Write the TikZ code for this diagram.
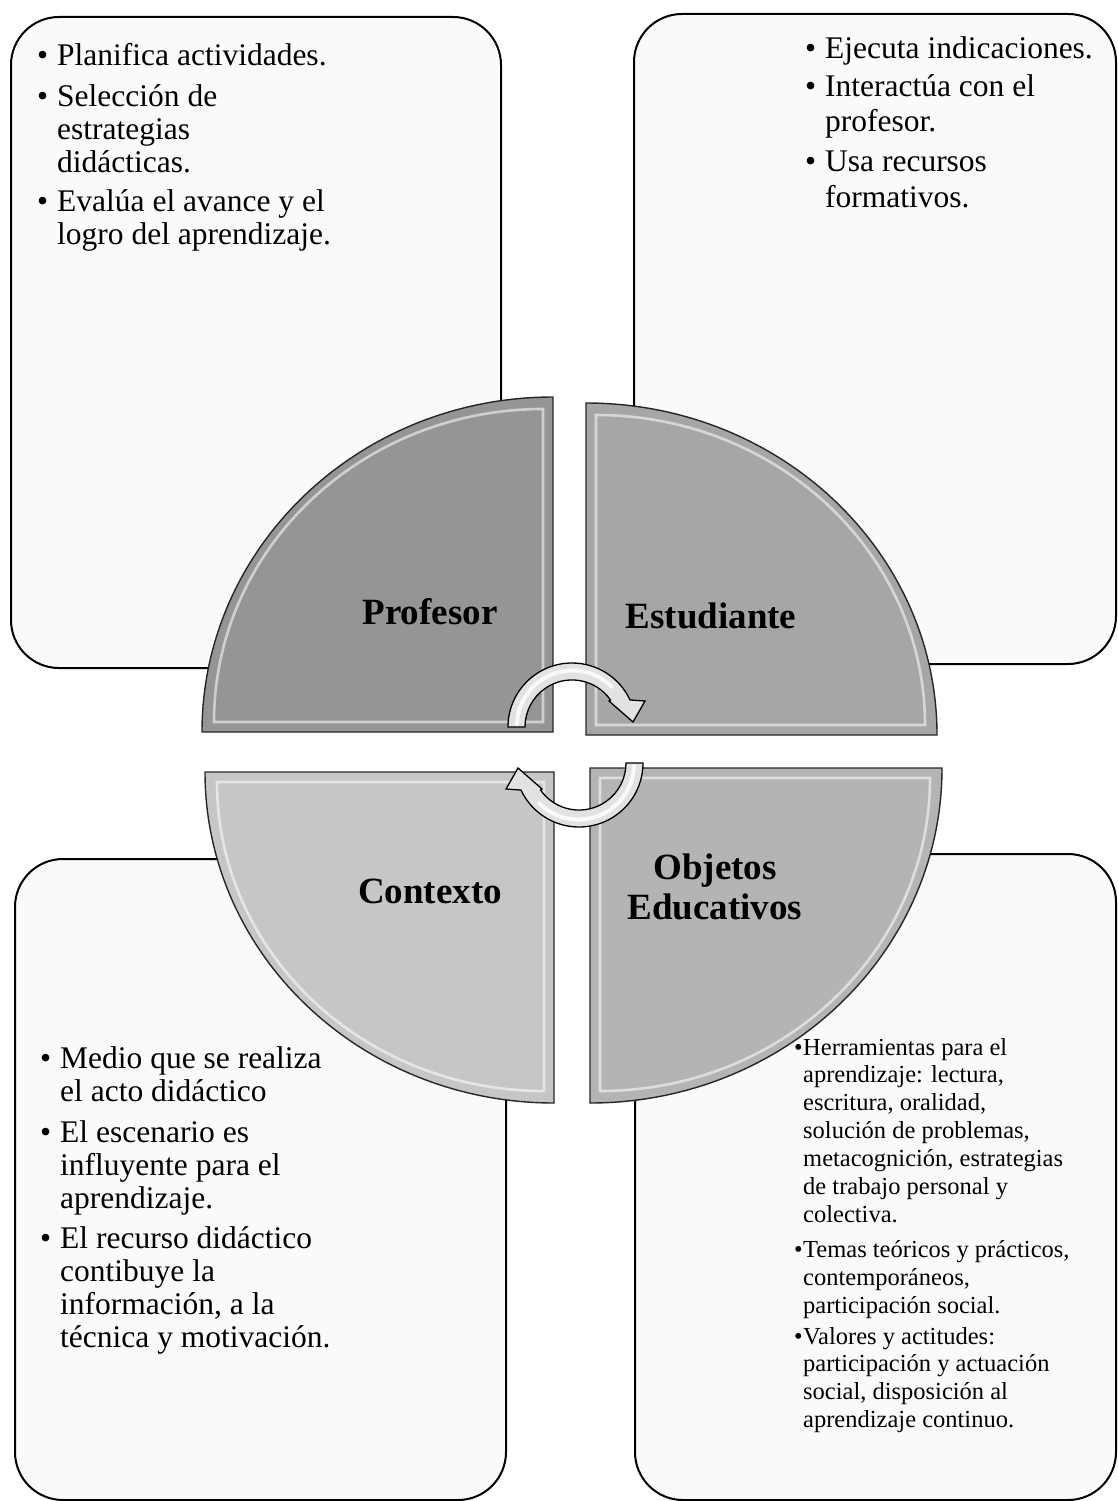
\documentclass[tikz,border=0pt]{standalone}
\usepackage{fontspec}
\setmainfont{Liberation Serif}
\definecolor{boxfill}{HTML}{FAFAFA}
\definecolor{qA}{HTML}{959595}
\definecolor{qB}{HTML}{A6A6A6}
\definecolor{qC}{HTML}{C6C6C6}
\definecolor{qD}{HTML}{B4B4B4}
\definecolor{arrowfill}{HTML}{E2E2E2}
\newcommand{\bul}[1]{\leavevmode\llap{\textbullet\hspace{#1}}}
\tikzset{
  infobox/.style={draw=black, line width=2pt, fill=boxfill, rounded corners=48pt,
    rectangle, inner sep=0pt, anchor=north west},
  quad/.style={draw=black!85, line width=1.4pt},
  bevel/.style={draw=white, line width=2.6pt, opacity=0.55},
  bigtext/.style={anchor=base west, inner sep=0pt, font=\fontsize{31.5}{33}\selectfont},
  smalltext/.style={anchor=base west, inner sep=0pt, font=\fontsize{24.5}{27.9}\selectfont},
  qlabel/.style={inner sep=0pt, font=\fontsize{37}{40}\selectfont\bfseries, align=center},
  cyc/.style={draw=black, line width=1.3pt, fill=arrowfill},
  cycshine/.style={draw=white, line width=4pt, opacity=0.8, line cap=round},
}
\begin{document}
\begin{tikzpicture}[x=1pt,y=1pt]
\useasboundingbox (0,0) rectangle (1117,-1501);

% ---- information boxes ----
\node[infobox, minimum width=490pt, minimum height=651pt] (boxTL) at (10,-16) {};
\node[infobox, minimum width=482pt, minimum height=650pt] (boxTR) at (633,-13) {};
\node[infobox, minimum width=491pt, minimum height=641pt] (boxBL) at (14,-858) {};
\node[infobox, minimum width=481pt, minimum height=646pt] (boxBR) at (634,-853) {};

% ---- box texts ----
\node[bigtext] (txtTL) at (57,-66) {\parbox[t]{440pt}{\raggedright
\bul{9pt}Planifica actividades.\\[8pt]
\bul{9pt}Selección de\\
estrategias\\
didácticas.\\[6pt]
\bul{9pt}Evalúa el avance y el\\
logro del aprendizaje.}};

\node[bigtext] (txtTR) at (825,-59) {\parbox[t]{300pt}{\raggedright
\bul{9pt}Ejecuta indicaciones.\\[5pt]
\bul{9pt}Interactúa con el\\[2pt]
profesor.\\[7pt]
\bul{9pt}Usa recursos\\[3pt]
formativos.}};

\node[bigtext] (txtBL) at (60,-1068) {\parbox[t]{440pt}{\raggedright
\bul{9pt}Medio que se realiza\\
el acto didáctico\\[8pt]
\bul{9pt}El escenario es\\
influyente para el\\
aprendizaje.\\[7pt]
\bul{9pt}El recurso didáctico\\
contibuye la\\
información, a la\\
técnica y motivación.}};

\node[smalltext] (txtBR) at (803,-1055) {\parbox[t]{320pt}{\raggedright
\bul{0.5pt}Herramientas para el\\
aprendizaje: lectura,\\
escritura, oralidad,\\
solución de problemas,\\
metacognición, estrategias\\
de trabajo personal y\\
colectiva.\\[7pt]
\bul{0.5pt}Temas teóricos y prácticos,\\
contemporáneos,\\
participación social.\\[3pt]
\bul{0.5pt}Valores y actitudes:\\
participación y actuación\\
social, disposición al\\
aprendizaje continuo.}};

% ---- quadrants ----
% Profesor (corner at bottom right)
\begin{scope}[shift={(553,-732)}]
  \fill[qA] (0,0) -- (-351,0) arc[start angle=180, end angle=90, x radius=351, y radius=335] -- cycle;
  \draw[bevel] (-10,10) -- (-339,10) arc[start angle=180, end angle=90, x radius=329, y radius=313] -- cycle;
  \draw[quad] (0,0) -- (-351,0) arc[start angle=180, end angle=90, x radius=351, y radius=335] -- cycle;
\end{scope}
% Estudiante (corner at bottom left)
\begin{scope}[shift={(586,-735)}, xscale=-1]
  \fill[qB] (0,0) -- (-351,0) arc[start angle=180, end angle=90, x radius=351, y radius=332] -- cycle;
  \draw[bevel] (-10,10) -- (-339,10) arc[start angle=180, end angle=90, x radius=329, y radius=310] -- cycle;
  \draw[quad] (0,0) -- (-351,0) arc[start angle=180, end angle=90, x radius=351, y radius=332] -- cycle;
\end{scope}
% Contexto (corner at top right)
\begin{scope}[shift={(554,-772)}, yscale=-1]
  \fill[qC] (0,0) -- (-349,0) arc[start angle=180, end angle=90, x radius=349, y radius=331] -- cycle;
  \draw[bevel] (-10,10) -- (-337,10) arc[start angle=180, end angle=90, x radius=327, y radius=309] -- cycle;
  \draw[quad] (0,0) -- (-349,0) arc[start angle=180, end angle=90, x radius=349, y radius=331] -- cycle;
\end{scope}
% Objetos Educativos (corner at top left)
\begin{scope}[shift={(590,-768)}, xscale=-1, yscale=-1]
  \fill[qD] (0,0) -- (-352,0) arc[start angle=180, end angle=90, x radius=352, y radius=335] -- cycle;
  \draw[bevel] (-10,10) -- (-340,10) arc[start angle=180, end angle=90, x radius=330, y radius=313] -- cycle;
  \draw[quad] (0,0) -- (-352,0) arc[start angle=180, end angle=90, x radius=352, y radius=335] -- cycle;
\end{scope}

% ---- quadrant labels ----
\node[qlabel, anchor=base] (lProf) at (430,-624) {Profesor};
\node[qlabel, anchor=base] (lEst) at (711,-628) {Estudiante};
\node[qlabel, anchor=base] (lCtx) at (430,-903) {Contexto};
\node[qlabel, anchor=center] (lObj) at (715,-887) {Objetos\\Educativos};

% ---- cycle arrows ----
\draw[cyc] (508,-727) arc[start angle=180, end angle=25, radius=64]
  -- (645,-701) -- (633,-722) -- (609,-701) -- (610.5,-700)
  arc[start angle=35, end angle=180, radius=47] -- cycle;
\draw[cycshine] (517,-724) arc[start angle=178, end angle=45, radius=55.5];
\begin{scope}[rotate around={180:(575.5,-745)}]
  \draw[cyc] (508,-727) arc[start angle=180, end angle=25, radius=64]
    -- (645,-701) -- (633,-722) -- (609,-701) -- (610.5,-700)
    arc[start angle=35, end angle=180, radius=47] -- cycle;
  \draw[cycshine] (517,-724) arc[start angle=178, end angle=45, radius=55.5];
\end{scope}
\end{tikzpicture}
\end{document}
